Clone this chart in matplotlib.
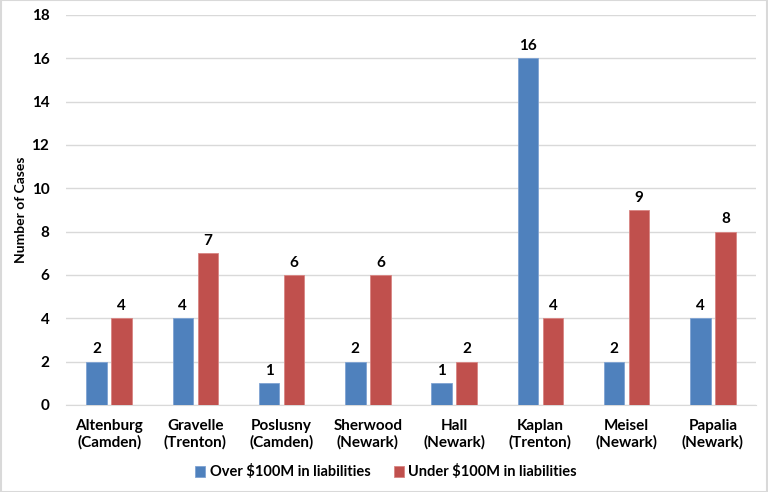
import matplotlib.pyplot as plt
import numpy as np

plt.rcParams['font.family'] = ['Lato', 'DejaVu Sans']
plt.rcParams['font.weight'] = 'bold'

judges = ['Altenburg\n(Camden)', 'Gravelle\n(Trenton)', 'Poslusny\n(Camden)', 'Sherwood\n(Newark)',
          'Hall\n(Newark)', 'Kaplan\n(Trenton)', 'Meisel\n(Newark)', 'Papalia\n(Newark)']
over_100m = [2, 4, 1, 2, 1, 16, 2, 4]
under_100m = [4, 7, 6, 6, 2, 4, 9, 8]
y_ticks = [0, 2, 4, 6, 8, 10, 12, 14, 16, 18]

BLUE = '#4F81BD'
RED = '#C0504D'

fig = plt.figure(figsize=(7.68, 4.92), dpi=100)
ax = fig.add_axes([66 / 768, 1 - 405 / 492, 690 / 768, 390 / 492])

x = np.arange(len(judges))
w = 0.235
off = 0.145
b1 = ax.bar(x - off, over_100m, w, color=BLUE, edgecolor='#7FA3D3', linewidth=0.6,
            label='Over $100M in liabilities', zorder=3)
b2 = ax.bar(x + off, under_100m, w, color=RED, edgecolor='#D88583', linewidth=0.6,
            label='Under $100M in liabilities', zorder=3)

for bars, vals in ((b1, over_100m), (b2, under_100m)):
    for b, v in zip(bars, vals):
        ax.text(b.get_x() + b.get_width() / 2, v + 0.25, str(v), ha='center', va='bottom',
                fontsize=11, fontweight='bold')

ax.set_xlim(-0.5, len(judges) - 0.5)
ax.set_ylim(0, 18)
ax.set_yticks(y_ticks)
ax.set_xticks(x)
ax.set_xticklabels(judges, fontsize=11, fontweight='bold')
ax.tick_params(axis='y', labelsize=11, length=0, pad=12)
ax.tick_params(axis='x', length=0, pad=10)
ax.grid(axis='y', color='#D9D9D9', linewidth=1, zorder=0)
for s in ('top', 'right', 'left'):
    ax.spines[s].set_visible(False)
ax.spines['bottom'].set_color('#D9D9D9')
ax.set_ylabel('Number of Cases', fontsize=10, fontweight='bold')
ax.yaxis.set_label_coords((27 - 66) / 690, 0.5)

fig.legend(handles=[b1, b2], loc='center', bbox_to_anchor=(386 / 768, 1 - 472 / 492), ncol=2,
           frameon=False, fontsize=10.5, handlelength=0.7, handleheight=0.7, handletextpad=0.3,
           columnspacing=1.6)

# light frame around the whole chart
fig.patches.append(plt.Rectangle((0.001, 0.001), 0.998, 0.998, transform=fig.transFigure,
                                 fill=False, edgecolor='#D9D9D9', linewidth=1.5))

fig.savefig('out.png', dpi=100)
